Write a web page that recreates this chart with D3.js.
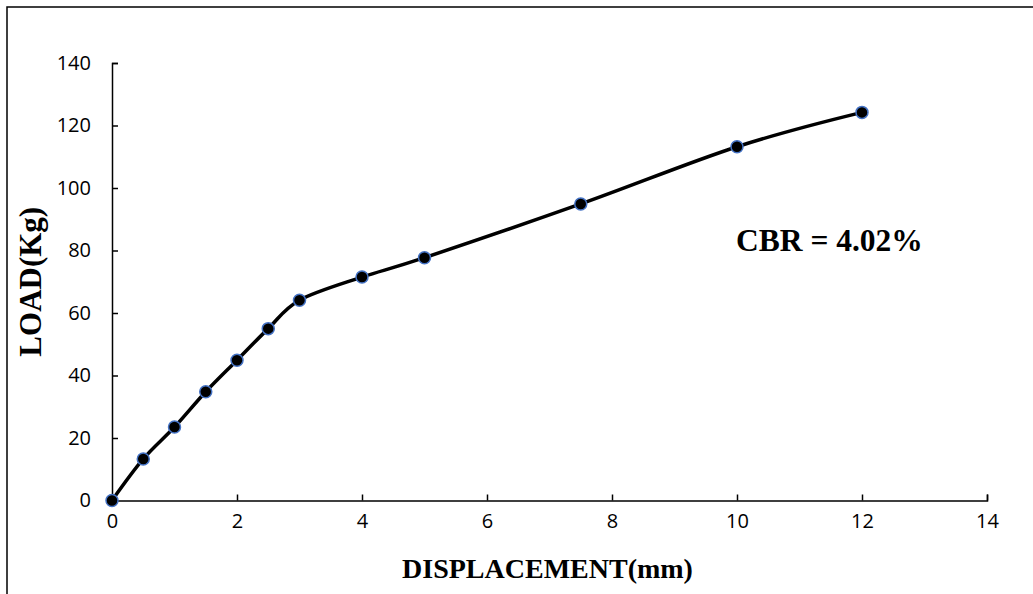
<!DOCTYPE html>
<html><head><meta charset="utf-8">
<script src="https://cdn.jsdelivr.net/npm/d3@7"></script>
<style>html,body{margin:0;padding:0;background:#fff;}</style>
</head><body><svg id="c" width="1033" height="594"></svg>
<script>
const displacement = [0, 0.5, 1, 1.5, 2, 2.5, 3, 4, 5, 7.5, 10, 12];
const load = [0, 13.3, 23.5, 34.8, 44.9, 55.0, 64.1, 71.5, 77.7, 94.9, 113.2, 124.2];
const xTicks = [0, 2, 4, 6, 8, 10, 12, 14];
const yTicks = [0, 20, 40, 60, 80, 100, 120, 140];
const xTitle = "DISPLACEMENT(mm)";
const yTitle = "LOAD(Kg)";
const annotation = "CBR = 4.02%";

const svg = d3.select("#c");
svg.append("rect").attr("x",0).attr("y",0).attr("width",1033).attr("height",594).attr("fill","#fff");
svg.append("rect").attr("x",7).attr("y",7).attr("width",1040).attr("height",600)
  .attr("fill","none").attr("stroke","#000").attr("stroke-width",1.5);

const x = d3.scaleLinear().domain([0,14]).range([112,987]);
const y = d3.scaleLinear().domain([0,140]).range([500.5,63]);

const tickFont = "'Open Sans', sans-serif";
// X axis
const gx = svg.append("g").attr("transform",`translate(0,${y(0)})`)
  .call(d3.axisBottom(x).tickValues(xTicks).tickSizeInner(-6).tickSizeOuter(-6).tickPadding(13).tickFormat(d3.format("d")));
gx.select(".domain").attr("stroke","#000").attr("stroke-width",1.5);
gx.selectAll(".tick line").attr("stroke","#000").attr("stroke-width",1.5);
gx.selectAll(".tick text").attr("font-family",tickFont).attr("font-size",20).attr("fill","#000").attr("dy","0.71em");

// Y axis
const gy = svg.append("g").attr("transform",`translate(${x(0)},0)`)
  .call(d3.axisLeft(y).tickValues(yTicks).tickSizeInner(-6).tickSizeOuter(-6).tickPadding(21).tickFormat(d3.format("d")));
gy.select(".domain").attr("stroke","#000").attr("stroke-width",1.5);
gy.selectAll(".tick line").attr("stroke","#000").attr("stroke-width",1.5);
gy.selectAll(".tick text").attr("font-family",tickFont).attr("font-size",20).attr("fill","#000");

// line
const pts = displacement.map((d,i)=>[d, load[i]]);
svg.append("path").datum(pts)
  .attr("fill","none").attr("stroke","#000").attr("stroke-width",3.5)
  .attr("d", d3.line().x(d=>x(d[0])).y(d=>y(d[1])).curve(d3.curveCardinal.tension(0)));

svg.selectAll("circle.pt").data(pts).enter().append("circle").attr("class","pt")
  .attr("cx",d=>x(d[0])).attr("cy",d=>y(d[1])).attr("r",6)
  .attr("fill","#000").attr("stroke","#4472C4").attr("stroke-width",1.5);

// titles
svg.append("text").attr("x",547.5).attr("y",578).attr("text-anchor","middle")
  .attr("font-family","'Liberation Serif', 'Times New Roman', serif").attr("font-weight","bold").attr("font-size",28)
  .text(xTitle);
svg.append("text").attr("transform",`translate(41,${(y(0)+y(140))/2}) rotate(-90)`).attr("text-anchor","middle")
  .attr("font-family","'Liberation Serif', 'Times New Roman', serif").attr("font-weight","bold").attr("font-size",31)
  .text(yTitle);
svg.append("text").attr("x",736).attr("y",251)
  .attr("font-family","'Liberation Serif', 'Times New Roman', serif").attr("font-weight","bold").attr("font-size",31.5)
  .text(annotation);
</script></body></html>
